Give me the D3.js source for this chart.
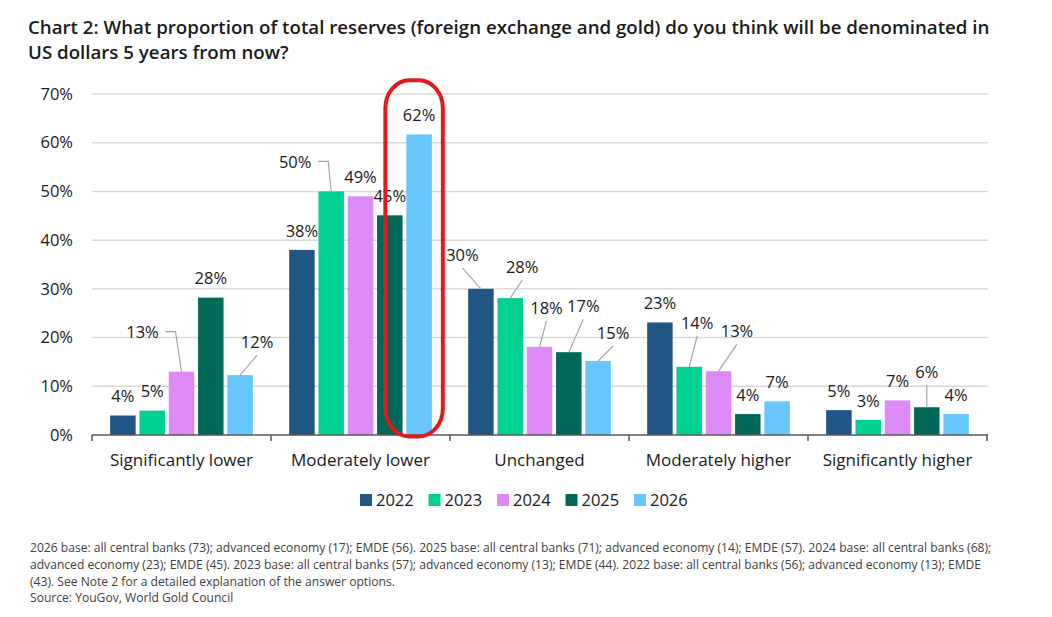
<!DOCTYPE html>
<html>
<head>
<meta charset="utf-8">
<script src="https://cdn.jsdelivr.net/npm/d3@7"></script>
<style>
  body { margin: 0; background: #fff; }
  svg { display: block; font-family: "Open Sans", "Noto Sans", sans-serif; }
</style>
</head>
<body>
<div id="chart"></div>
<script>
var categories = ["Significantly lower", "Moderately lower", "Unchanged", "Moderately higher", "Significantly higher"];
var years = ["2022", "2023", "2024", "2025", "2026"];
var v2022 = [4, 38, 30, 23.1, 5.1];
var v2023 = [5, 50, 28.1, 14, 3.1];
var v2024 = [13, 49, 18.1, 13.1, 7.1];
var v2025 = [28.2, 45.1, 17, 4.3, 5.7];
var v2026 = [12.3, 61.7, 15.2, 6.9, 4.3];
var yTicks = [0, 10, 20, 30, 40, 50, 60, 70];
var colors = ["#215583", "#00d092", "#dc8af8", "#006958", "#67c6fb"];

var title = ["Chart 2: What proportion of total reserves (foreign exchange and gold) do you think will be denominated in",
             "US dollars 5 years from now?"];
var notes = ["2026 base: all central banks (73); advanced economy (17); EMDE (56). 2025 base: all central banks (71); advanced economy (14); EMDE (57). 2024 base: all central banks (68);",
             "advanced economy (23); EMDE (45). 2023 base: all central banks (57); advanced economy (13); EMDE (44). 2022 base: all central banks (56); advanced economy (13); EMDE",
             "(43). See Note 2 for a detailed explanation of the answer options.",
             "Source: YouGov, World Gold Council"];

// label nudges (dx, dy, leader type) for labels that were moved off their bar
var nudges = {
    "2024|Significantly lower": [-39, -20, "side"],
    "2026|Significantly lower": [17, -14, "down"],
    "2023|Moderately lower": [-36, -10, "side"],
    "2022|Unchanged": [-18.5, -15, "down"],
    "2023|Unchanged": [12, -12, "down"],
    "2024|Unchanged": [7, -20, "down"],
    "2025|Unchanged": [14.5, -27, "down"],
    "2026|Unchanged": [15, -9, "down"],
    "2023|Moderately higher": [8, -25, "down"],
    "2024|Moderately higher": [18.5, -21, "down"],
    "2025|Significantly higher": [0, -16, "down"]
};

var series = [v2022, v2023, v2024, v2025, v2026];
var rows = [];
categories.forEach(function(c, i) {
    years.forEach(function(yr, j) {
        rows.push({cat: c, year: yr, value: series[j][i], color: colors[j]});
    });
});

var W = 1052, H = 617;
var svg = d3.select("#chart").append("svg")
    .attr("width", W)
    .attr("height", H);

svg.append("g").selectAll("text")
    .data(title)
    .join("text")
    .attr("x", 28)
    .attr("y", (d, i) => 34 + i * 25)
    .attr("font-size", 18.7)
    .attr("font-weight", 600)
    .attr("fill", "#1a1a1a")
    .text(d => d);

var x = d3.scaleBand()
    .domain(categories)
    .range([92, 987]);

var x1 = d3.scaleBand()
    .domain(years)
    .range([0, x.bandwidth()])
    .paddingInner(0.13)
    .paddingOuter(0.62);

var y = d3.scaleLinear()
    .domain([0, 70])
    .range([435, 94]);

// gridlines
svg.append("g").selectAll("line")
    .data(yTicks.slice(1))
    .join("line")
    .attr("x1", 92)
    .attr("x2", 988)
    .attr("y1", d => y(d))
    .attr("y2", d => y(d))
    .attr("stroke", "#d9d9d9")
    .attr("stroke-width", 1.5);

svg.append("g").selectAll("text")
    .data(yTicks)
    .join("text")
    .attr("x", 73)
    .attr("y", d => y(d))
    .attr("dy", "0.35em")
    .attr("text-anchor", "end")
    .attr("font-size", 16.5)
    .attr("fill", "#1a1a1a")
    .text(d => d + "%");

// bars
svg.append("g").selectAll("rect")
    .data(rows)
    .join("rect")
    .attr("x", d => x(d.cat) + x1(d.year))
    .attr("y", d => y(d.value))
    .attr("width", x1.bandwidth())
    .attr("height", d => y(0) - y(d.value))
    .attr("fill", d => d.color);

// x axis
var xAxis = svg.append("g")
    .attr("transform", "translate(0,435)");
xAxis.append("line")
    .attr("x1", 92).attr("x2", 988)
    .attr("stroke", "#595959").attr("stroke-width", 1.5);
xAxis.selectAll("line.tick")
    .data(categories.concat(["end"]))
    .join("line")
    .attr("class", "tick")
    .attr("x1", (d, i) => i < categories.length ? x(d) : x.range()[1])
    .attr("x2", (d, i) => i < categories.length ? x(d) : x.range()[1])
    .attr("y1", 0).attr("y2", 6)
    .attr("stroke", "#595959").attr("stroke-width", 1.5);
xAxis.selectAll("text")
    .data(categories)
    .join("text")
    .attr("x", d => x(d) + x.bandwidth() / 2)
    .attr("y", 31)
    .attr("text-anchor", "middle")
    .attr("font-size", 17)
    .attr("fill", "#1a1a1a")
    .text(d => d);

// data labels and leader lines
var labels = rows.map(function(d) {
    var n = nudges[d.year + "|" + d.cat] || [0, 0, null];
    var bx = x(d.cat) + x1(d.year) + x1.bandwidth() / 2;
    var by = y(d.value);
    return {d: d, bx: bx, by: by, lx: bx + n[0], ly: by - 19 + n[1], kind: n[2]};
});

svg.append("g").selectAll("path")
    .data(labels.filter(l => l.kind))
    .join("path")
    .attr("d", function(l) {
        if (l.kind == "side") {
            var sx = l.lx + 23, sy = l.ly - 1;
            return "M" + sx + "," + sy + "L" + (sx + 10) + "," + sy + "L" + l.bx + "," + l.by;
        }
        return "M" + l.lx + "," + (l.ly + 13) + "L" + l.bx + "," + l.by;
    })
    .attr("fill", "none")
    .attr("stroke", "#a6a6a6")
    .attr("stroke-width", 1.2);

svg.append("g").selectAll("text")
    .data(labels)
    .join("text")
    .attr("x", l => l.lx)
    .attr("y", l => l.ly)
    .attr("dy", "0.35em")
    .attr("text-anchor", "middle")
    .attr("font-size", 16.5)
    .attr("fill", "#1a1a1a")
    .text(l => Math.round(l.d.value) + "%");

// red highlight around the 2026 "Moderately lower" bar
var hx = x("Moderately lower") + x1("2026");
svg.append("rect")
    .attr("x", hx - 21)
    .attr("y", y(72.8))
    .attr("width", x1.bandwidth() + 32)
    .attr("height", y(-0.3) - y(72.8))
    .attr("rx", 24)
    .attr("ry", 28)
    .attr("fill", "none")
    .attr("stroke", "#e3191f")
    .attr("stroke-width", 4);

// legend
var legend = svg.append("g").selectAll("g")
    .data(years)
    .join("g")
    .attr("transform", (d, i) => "translate(" + (360 + i * 68.5) + ",494)");
legend.append("rect")
    .attr("width", 12).attr("height", 12)
    .attr("fill", (d, i) => colors[i]);
legend.append("text")
    .attr("x", 16).attr("y", 6)
    .attr("dy", "0.35em")
    .attr("font-size", 16.5)
    .attr("fill", "#1a1a1a")
    .text(d => d);

svg.append("g").selectAll("text")
    .data(notes)
    .join("text")
    .attr("x", 30)
    .attr("y", (d, i) => 552 + i * 16.8)
    .attr("font-size", 12.1)
    .attr("fill", "#404040")
    .text(d => d);
</script>
</body>
</html>
